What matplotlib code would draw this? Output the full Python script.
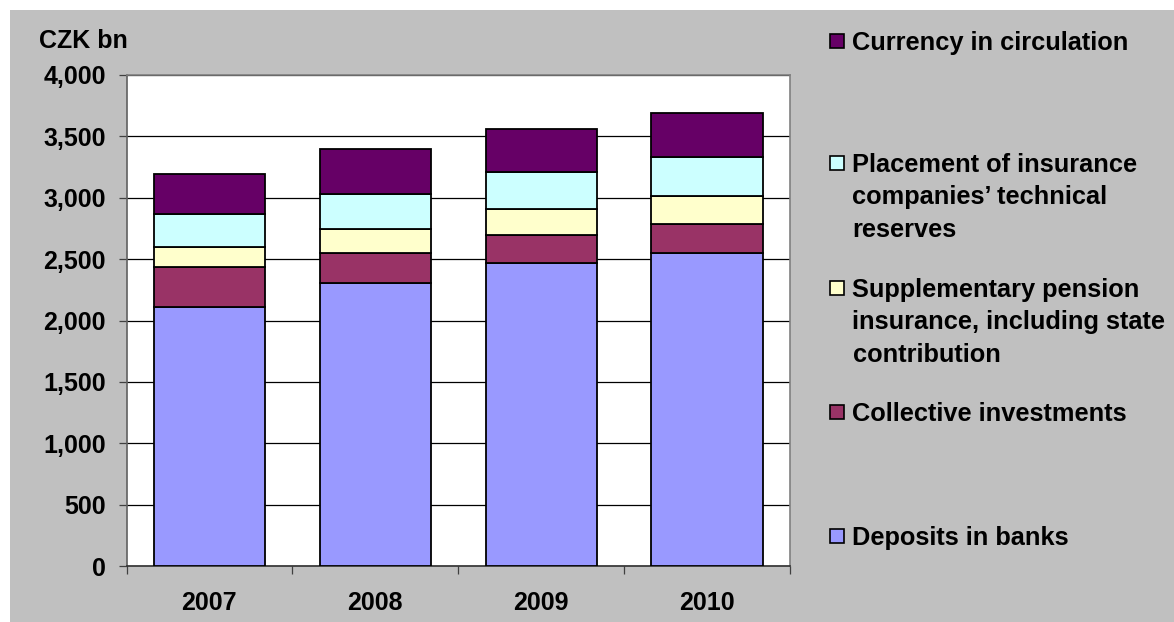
import matplotlib
matplotlib.use("Agg")
import matplotlib.pyplot as plt
from matplotlib.patches import Rectangle
import numpy as np

plt.rcParams['font.family'] = ['Liberation Sans', 'DejaVu Sans']
plt.rcParams['font.weight'] = 'bold'

years = ["2007", "2008", "2009", "2010"]
deposits = [2108, 2307, 2467, 2549]
collective = [327, 242, 228, 240]
supplementary = [165, 195, 210, 227]
placement = [270, 285, 306, 316]
currency = [321, 371, 348, 355]

series_names = ["Deposits in banks", "Collective investments",
                "Supplementary pension\ninsurance, including state\ncontribution",
                "Placement of insurance\ncompanies\u2019 technical\nreserves",
                "Currency in circulation"]
series_values = [deposits, collective, supplementary, placement, currency]
colors = ["#9999FF", "#993366", "#FFFFCC", "#CCFFFF", "#660066"]

yticks = [0, 500, 1000, 1500, 2000, 2500, 3000, 3500, 4000]
ytick_labels = ["0", "500", "1,000", "1,500", "2,000", "2,500", "3,000", "3,500", "4,000"]

W, H = 1174, 622
fig = plt.figure(figsize=(W / 100, H / 100), dpi=100)
fig.patch.set_facecolor("white")
# gray chart area
fig.patches.append(Rectangle((10 / W, 0), 1 - 10 / W, 1 - 10 / H, transform=fig.transFigure,
                             facecolor="#C0C0C0", edgecolor="none", zorder=-10))

ax = fig.add_axes([126.5 / W, 1 - 566 / H, (790 - 126.5) / W, (566 - 75) / H])
ax.set_zorder(1)
ax.set_facecolor("white")

x = np.arange(len(years))
bottom = np.zeros(len(years))
for name, vals, c in zip(series_names, series_values, colors):
    ax.bar(x, vals, bottom=bottom, width=0.67, color=c, edgecolor="black",
           linewidth=1.3, zorder=3)
    bottom += np.array(vals)

ax.set_xlim(-0.5, len(years) - 0.5)
ax.set_ylim(0, 4000)
ax.set_yticks(yticks)
ax.set_yticklabels(ytick_labels)
ax.yaxis.grid(True, color="black", linewidth=0.9, zorder=0)
ax.set_axisbelow(True)

ax.set_xticks(x)
ax.set_xticklabels(years)
ax.set_xticks(np.arange(-0.5, len(years)), minor=True)
ax.tick_params(axis="x", which="major", length=0, pad=18, labelsize=18)
ax.tick_params(axis="x", which="minor", length=5.5, width=0.9, color="#404040", direction="out")
ax.tick_params(axis="y", length=6, width=0.9, color="#404040", pad=9, labelsize=18)

for s in ["top", "right"]:
    ax.spines[s].set_color("#808080")
    ax.spines[s].set_linewidth(1.2)
ax.spines["left"].set_color("#606060")
ax.spines["left"].set_linewidth(1.2)
ax.spines["bottom"].set_color("#303030")
ax.spines["bottom"].set_linewidth(1.2)

fig.text(39 / W, 1 - 41 / H, "CZK bn", fontsize=18, fontweight="bold", va="center", ha="left")

# legend (manual, to match layout)
legend_y = [41, 163, 288, 412, 536]  # first-line centers for entries top->bottom
order = [4, 3, 2, 1, 0]
for yy, idx in zip(legend_y, order):
    fig.patches.append(Rectangle((830 / W, 1 - (yy + 7) / H), 14 / W, 14 / H,
                                 transform=fig.transFigure, facecolor=colors[idx],
                                 edgecolor="black", linewidth=1.2, zorder=2))
    fig.text(852.5 / W, 1 - (yy - 10) / H, series_names[idx], fontsize=18.3,
             fontweight="bold", va="top", ha="left", linespacing=1.44)

fig.savefig("out.png", dpi=100, facecolor=fig.get_facecolor())
